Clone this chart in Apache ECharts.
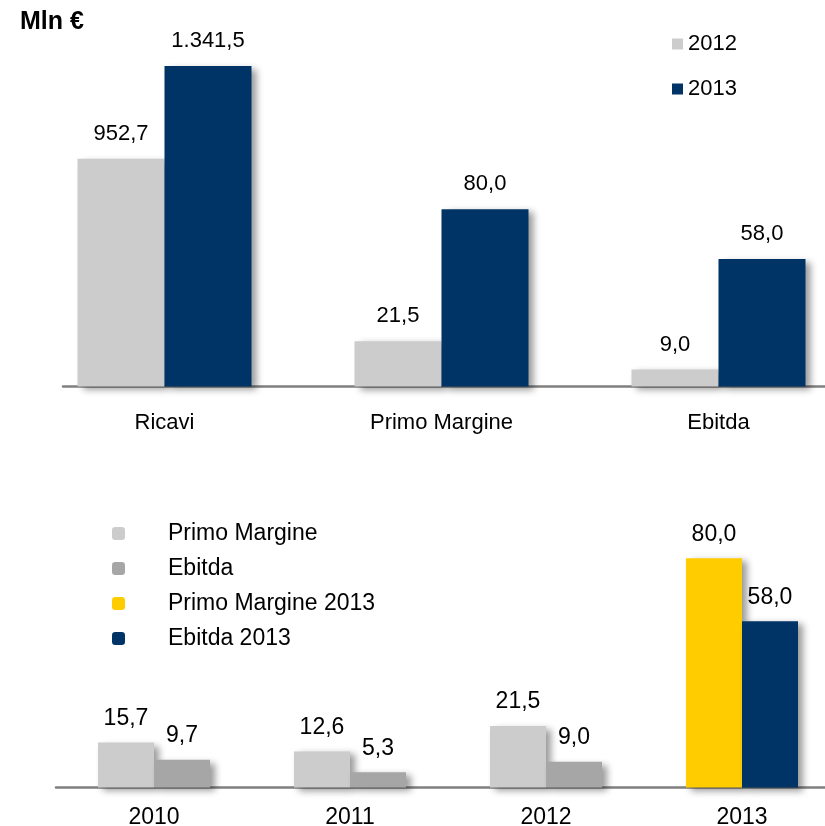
<!DOCTYPE html>
<html>
<head>
<meta charset="utf-8">
<script src="https://cdn.jsdelivr.net/npm/echarts@6/dist/echarts.min.js"></script>
<style>html,body{margin:0;padding:0;background:#fff}#c{width:825px;height:826px}</style>
</head>
<body>
<div id="c"></div>
<script>
// ---- data ----
const topCategories = ['Ricavi', 'Primo Margine', 'Ebitda'];
const ricavi2012 = [952.7, '-', '-'];
const ricavi2013 = [1341.5, '-', '-'];
const margini2012 = ['-', 21.5, 9.0];
const margini2013 = ['-', 80.0, 58.0];
const topLegend = ['2012', '2013'];

const years = ['2010', '2011', '2012', '2013'];
const primoMargine = [15.7, 12.6, 21.5, '-'];
const ebitda = [9.7, 5.3, 9.0, '-'];
const primoMargine2013 = ['-', '-', '-', 80.0];
const ebitda2013 = ['-', '-', '-', 58.0];
const bottomLegend = ['Primo Margine', 'Ebitda', 'Primo Margine 2013', 'Ebitda 2013'];

// ---- styles ----
const FONT = '"Liberation Sans", Arial, sans-serif';
const C_LIGHT = '#CCCCCC', C_DARK = '#A6A6A6', C_YEL = '#FFCC00', C_NAVY = '#003366';
const AXIS_LINE = { show: true, lineStyle: { color: '#808080', width: 2.5 } };
const shadow = { shadowBlur: 7, shadowColor: 'rgba(0,0,0,0.4)', shadowOffsetX: 5, shadowOffsetY: 3 };

function fmtIt(v) {
  const s = Number(v).toFixed(1);
  let [i, d] = s.split('.');
  i = i.replace(/\B(?=(\d{3})+(?!\d))/g, '.');
  return i + ',' + d;
}
function lbl(size, dist) {
  return { show: true, position: 'top', distance: dist, color: '#000', fontFamily: FONT, fontSize: size,
           formatter: p => fmtIt(p.value) };
}
function topBar(name, data, color, xi, yi) {
  return { name, type: 'bar', data, xAxisIndex: xi, yAxisIndex: yi, barWidth: 87, barGap: '0%',
           itemStyle: Object.assign({ color }, shadow), label: lbl(22, 14) };
}
function botBar(name, data, color, stack) {
  return { name, type: 'bar', data, stack, xAxisIndex: 2, yAxisIndex: 2, barWidth: 56, barGap: '0%',
           itemStyle: Object.assign({ color }, shadow), label: lbl(23, 12.5) };
}

const chart = echarts.init(document.getElementById('c'), null, { renderer: 'canvas' });
chart.setOption({
  animation: false,
  textStyle: { fontFamily: FONT },
  title: { text: 'Mln €', left: 20, top: 10, padding: 0,
           textStyle: { fontFamily: FONT, fontSize: 25, fontWeight: 'bold', color: '#000' } },
  legend: [
    { data: topLegend, orient: 'vertical', left: 672, top: 33, padding: 0, itemWidth: 11, itemHeight: 11, itemGap: 23,
      icon: 'rect', textStyle: { fontFamily: FONT, fontSize: 22, color: '#000' } },
    { data: bottomLegend, orient: 'vertical', left: 112, top: 522, padding: 0, itemWidth: 13, itemHeight: 13, itemGap: 12,
      icon: 'roundRect', textStyle: { fontFamily: FONT, fontSize: 23, color: '#000', padding: [0, 0, 0, 38] } }
  ],
  grid: [
    { left: 26, width: 831, top: 40, bottom: 439.5, outerBoundsMode: 'none' },
    { left: 56, width: 784, top: 501, bottom: 38.5, outerBoundsMode: 'none' },
    { left: 63, right: 0, top: 40, bottom: 439.5, outerBoundsMode: 'none' }
  ],
  xAxis: [
    { type: 'category', gridIndex: 0, data: topCategories, axisLine: { show: false }, axisTick: { show: false },
      axisLabel: { margin: 25, color: '#000', fontFamily: FONT, fontSize: 22 } },
    { type: 'category', gridIndex: 0, data: topCategories, position: 'bottom', show: false },
    { type: 'category', gridIndex: 1, data: years, axisLine: AXIS_LINE, axisTick: { show: false },
      axisLabel: { margin: 19, color: '#000', fontFamily: FONT, fontSize: 23 } },
    { type: 'category', gridIndex: 2, data: topCategories, axisLine: AXIS_LINE, axisTick: { show: false },
      axisLabel: { show: false } }
  ],
  yAxis: [
    { type: 'value', gridIndex: 0, min: 0, max: 1450, show: false },
    { type: 'value', gridIndex: 0, min: 1.5, max: 155, show: false },
    { type: 'value', gridIndex: 1, min: 0, max: 100, show: false },
    { type: 'value', gridIndex: 2, min: 0, max: 1, show: false }
  ],
  series: [
    topBar('2012', ricavi2012, C_LIGHT, 0, 0),
    topBar('2013', ricavi2013, C_NAVY, 0, 0),
    topBar('2012', margini2012, C_LIGHT, 1, 1),
    topBar('2013', margini2013, C_NAVY, 1, 1),
    botBar('Primo Margine', primoMargine, C_LIGHT, 'pm'),
    botBar('Ebitda', ebitda, C_DARK, 'eb'),
    botBar('Primo Margine 2013', primoMargine2013, C_YEL, 'pm'),
    botBar('Ebitda 2013', ebitda2013, C_NAVY, 'eb')
  ]
});
</script>
</body>
</html>
